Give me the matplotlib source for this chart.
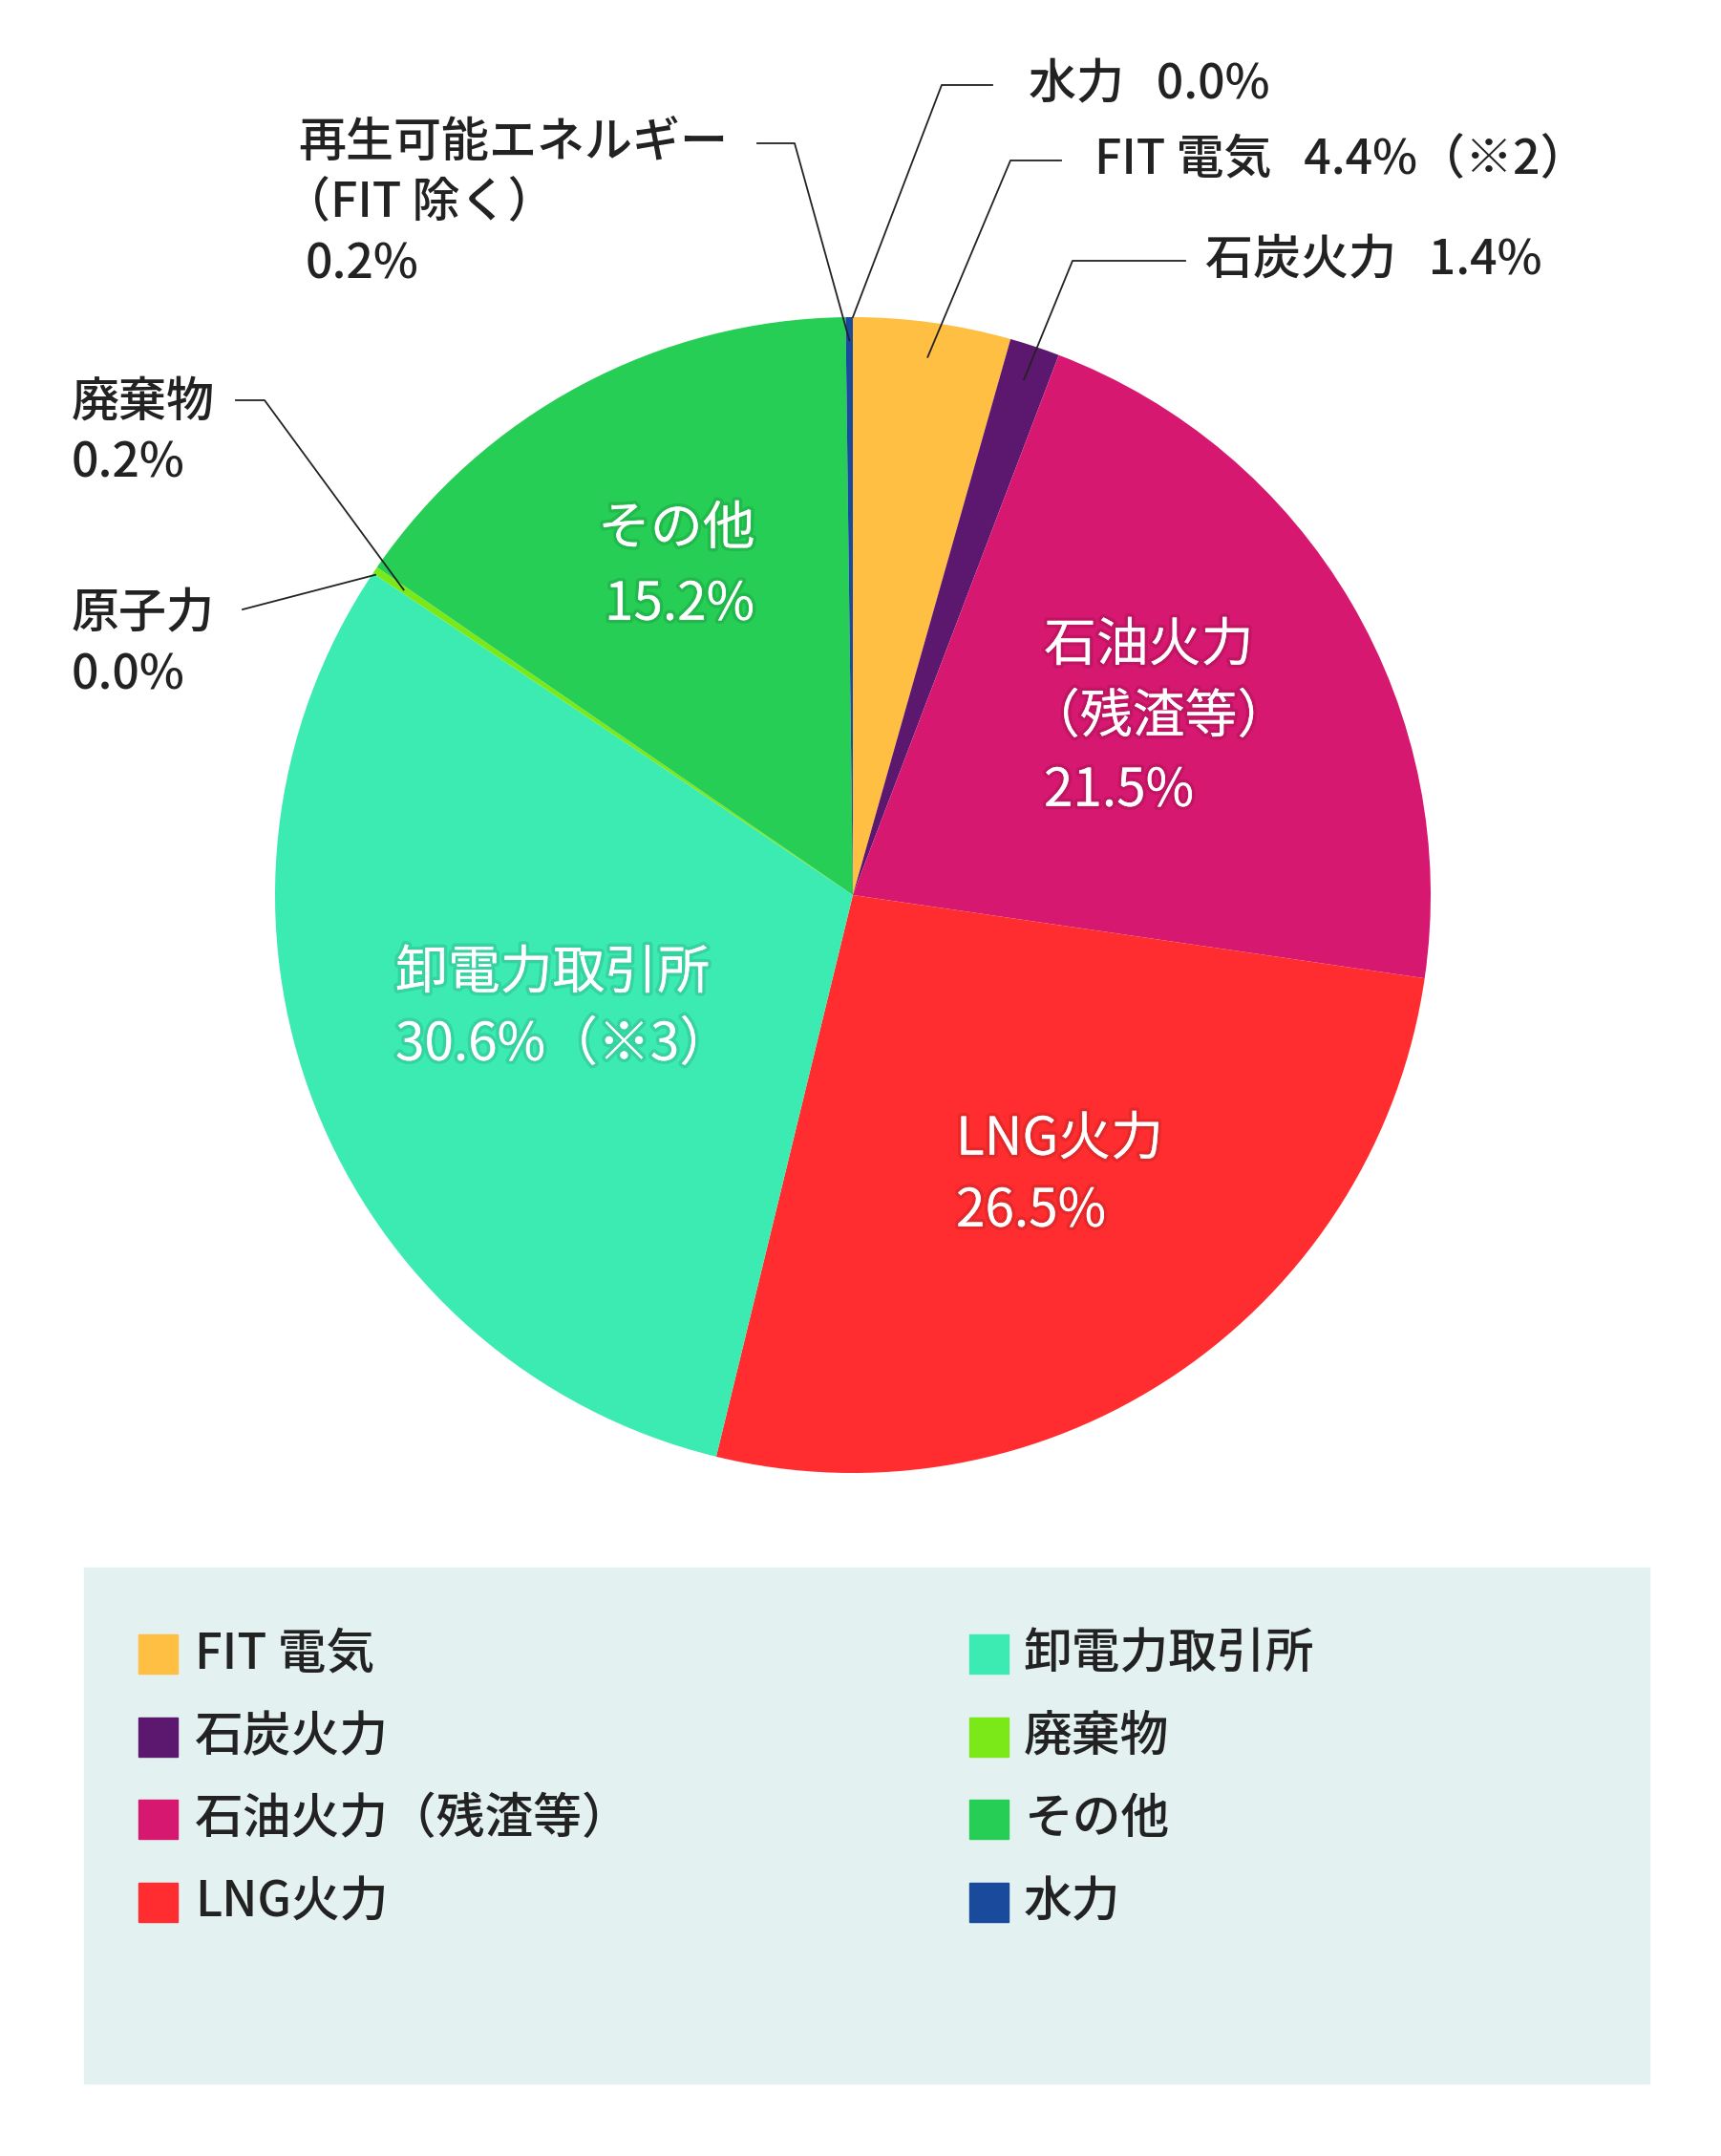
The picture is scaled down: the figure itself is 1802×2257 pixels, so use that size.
import numpy as np
import matplotlib.pyplot as plt
import matplotlib.patheffects as pe
from matplotlib.lines import Line2D
from matplotlib.patches import Rectangle

plt.rcParams['font.family'] = ['Noto Sans CJK JP', 'DejaVu Sans']

W, H = 1802, 2257

# データ（時計回り、真上から）
names = ["FIT 電気", "石炭火力", "石油火力（残渣等）", "LNG火力", "卸電力取引所",
         "原子力", "廃棄物", "その他", "再生可能エネルギー（FIT 除く）", "水力"]
shares = [4.4, 1.4, 21.5, 26.5, 30.6, 0.0, 0.2, 15.2, 0.2, 0.0]
colors = ["#FEBF43", "#5C176E", "#D71870", "#FF2D2F", "#3CEBB2",
          "#7BE918", "#7BE918", "#26CE55", "#1A4A9C", "#1A4A9C"]

legend_left = ["FIT 電気", "石炭火力", "石油火力（残渣等）", "LNG火力"]
legend_left_colors = ["#FEBF43", "#5C176E", "#D71870", "#FF2D2F"]
legend_right = ["卸電力取引所", "廃棄物", "その他", "水力"]
legend_right_colors = ["#3CEBB2", "#7BE918", "#26CE55", "#1A4A9C"]

FS_OUT = 36
FS_IN = 39.5
FS_LEG = 36.5
DARK = "#222222"


def fp(x, y):
    # ピクセル座標（左上原点）→ figure座標
    return x / W, 1 - y / H


fig = plt.figure(figsize=(W / 100, H / 100), dpi=100)

# 円グラフ
cx, cy, r = 893, 937, 605
ax = fig.add_axes([(cx - r) / W, 1 - (cy + r) / H, 2 * r / W, 2 * r / H])
wedges, _ = ax.pie(shares, colors=colors, startangle=90, counterclock=False,
                   radius=1, wedgeprops=dict(linewidth=0))
ax.set_xlim(-1, 1)
ax.set_ylim(-1, 1)
ax.axis('off')


def wedge_point(i, frac, rr):
    w = wedges[i]
    th = np.deg2rad(w.theta1 + frac * (w.theta2 - w.theta1))
    disp = ax.transData.transform((rr * np.cos(th), rr * np.sin(th)))
    return fig.transFigure.inverted().transform(disp)


def leader(i, frac, rr, pts):
    xs, ys = zip(*[fp(*p) for p in pts])
    end = wedge_point(i, frac, rr)
    xs = list(xs) + [end[0]]
    ys = list(ys) + [end[1]]
    fig.add_artist(Line2D(xs, ys, transform=fig.transFigure, color=DARK, lw=1.3))


def txt(x, y, s, color=DARK, size=FS_OUT, weight='medium', effects=None):
    fx, fy = fp(x, y)
    fig.text(fx, fy, s, color=color, fontsize=size, fontweight=weight,
             ha='left', va='center', path_effects=effects)


def intxt(x, y, s):
    shadow = [pe.withStroke(linewidth=5, foreground=(0, 0, 0, 0.10))]
    txt(x, y, s, "white", FS_IN, 'normal', shadow)


def pct(v):
    return f"{v:.1f}%"


# 外側ラベル
txt(1077, 89, "水力   " + pct(shares[9]))
leader(9, 0.5, 1.0, [(1039, 89), (986, 89)])

txt(1146, 168, "FIT 電気   " + pct(shares[0]) + "（※2）")
leader(0, 0.5, 0.94, [(1111, 168), (1058, 168)])

txt(1262, 273, "石炭火力   " + pct(shares[1]))
leader(1, 0.5, 0.94, [(1241, 273), (1123, 273)])

txt(312, 150, "再生可能エネルギー")
txt(296, 213, "（FIT 除く）")
txt(320, 278, pct(shares[8]))
leader(8, 0.5, 0.96, [(793, 150), (832, 150)])

txt(75, 422, "廃棄物")
txt(75, 486, pct(shares[6]))
leader(6, 0.5, 0.94, [(247, 419), (277, 419)])

txt(75, 643, "原子力")
txt(75, 708, pct(shares[5]))
leader(5, 0.5, 0.995, [(254, 638)])

# 内側ラベル
intxt(626, 554, "その他")
intxt(633, 633, pct(shares[7]))

intxt(1093, 676, "石油火力")
intxt(1076, 751, "（残渣等）")
intxt(1093, 828, pct(shares[2]))

intxt(414, 1019, "卸電力取引所")
intxt(414, 1094, pct(shares[4]) + "（※3）")

intxt(1001, 1193, "LNG火力")
intxt(1001, 1268, pct(shares[3]))

# 凡例
x0, y0 = fp(88, 2181)
fig.add_artist(Rectangle((x0, y0), (1727 - 88) / W, (2181 - 1641) / H,
                         transform=fig.transFigure, color="#E3F1F0", zorder=0))
rows = [1731, 1818, 1904, 1991]
sq = 41
for col_x, text_x, labels, cols in [(145, 204, legend_left, legend_left_colors),
                                    (1015, 1072, legend_right, legend_right_colors)]:
    for yy, lab, c in zip(rows, labels, cols):
        sx, sy = fp(col_x, yy + sq / 2)
        fig.add_artist(Rectangle((sx, sy), sq / W, sq / H,
                                 transform=fig.transFigure, color=c))
        txt(text_x, yy, lab, size=FS_LEG)

fig.savefig("out.png", dpi=100, facecolor="white")
